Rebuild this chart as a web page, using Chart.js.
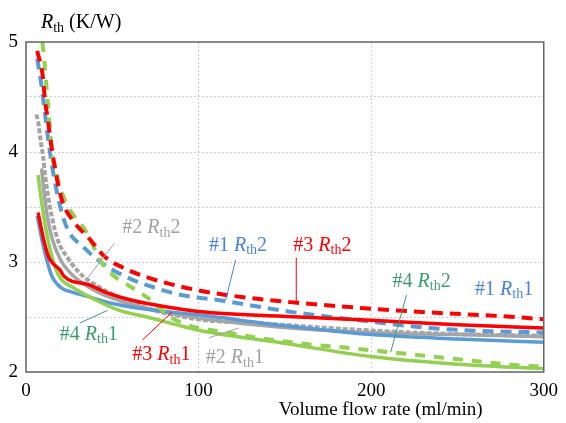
<!DOCTYPE html>
<html>
<head>
<meta charset="utf-8">
<script src="https://cdn.jsdelivr.net/npm/chart.js@4.4.1/dist/chart.umd.min.js"></script>
<style>
  body { margin: 0; background: #fff; }
</style>
</head>
<body>
<canvas id="chart" width="566" height="423"></canvas>
<script>
// values: flow (ml/min) and Rth (K/W) per curve

// #1 Rth1 (blue, solid)
let flow_1_1 = [6.5, 9, 12, 15, 18, 21, 28, 35, 48, 70, 100, 150, 200, 250, 300];
let rth_1_1  = [3.42, 3.22, 3.02, 2.87, 2.8, 2.76, 2.72, 2.69, 2.63, 2.57, 2.52, 2.42, 2.34, 2.3, 2.27];
// #1 Rth2 (blue, dashed)
let flow_1_2 = [6.5, 9, 11, 13, 15, 20.7, 25, 33, 41.5, 50, 61.6, 70, 90, 113, 140, 152, 204, 234, 270, 300];
let rth_1_2  = [4.85, 4.6, 4.35, 4.1, 3.88, 3.45, 3.27, 3.14, 3.02, 2.93, 2.84, 2.79, 2.7, 2.65, 2.58, 2.55, 2.45, 2.4, 2.37, 2.36];
// #2 Rth1 (gray, solid)
let flow_2_1 = [9, 10, 12, 15, 20, 27, 40, 54, 70, 100, 146, 200, 250, 300];
let rth_2_1  = [3.85, 3.7, 3.45, 3.22, 3.02, 2.88, 2.74, 2.65, 2.58, 2.49, 2.41, 2.36, 2.34, 2.32];
// #2 Rth2 (gray, dashed)
let flow_2_2 = [6, 7, 8.5, 10, 11, 13, 15, 18.4, 23.6, 31, 42.6, 54, 70, 85, 104, 130, 148, 175, 223, 260, 300];
let rth_2_2  = [4.34, 4.28, 4.1, 3.95, 3.8, 3.58, 3.41, 3.2, 3.05, 2.9, 2.77, 2.68, 2.58, 2.52, 2.47, 2.45, 2.43, 2.4, 2.36, 2.34, 2.33];
// #3 Rth1 (red, solid)
let flow_3_1 = [7, 10, 13, 16, 19.6, 22, 37, 47, 62, 71, 100, 158, 200, 250, 300];
let rth_3_1  = [3.45, 3.22, 3.05, 2.98, 2.93, 2.87, 2.79, 2.72, 2.65, 2.62, 2.55, 2.5, 2.47, 2.43, 2.4];
// #3 Rth2 (red, dashed)
let flow_3_2 = [6.5, 9.8, 11, 12.7, 14.4, 18.4, 21.3, 28, 36.8, 45.5, 56, 68.5, 81, 104, 131, 157, 196, 235, 273, 300];
let rth_3_2  = [4.92, 4.68, 4.47, 4.29, 4.09, 3.72, 3.54, 3.36, 3.21, 3.05, 2.95, 2.87, 2.81, 2.73, 2.67, 2.63, 2.58, 2.54, 2.51, 2.48];
// #4 Rth1 (green, solid)
let flow_4_1 = [7, 9, 12, 15.5, 19.6, 27, 41, 54, 70, 100, 146, 200, 250, 300];
let rth_4_1  = [3.79, 3.55, 3.26, 3.02, 2.86, 2.77, 2.65, 2.56, 2.5, 2.38, 2.27, 2.14, 2.07, 2.03];
// #4 Rth2 (green, dashed)
let flow_4_2 = [9.5, 11, 12, 13, 14, 15, 18, 22.5, 35, 44, 52, 56, 70, 87, 120, 159, 186, 211, 248, 286, 300];
let rth_4_2  = [5.0, 4.77, 4.56, 4.38, 4.2, 4.0, 3.78, 3.56, 3.27, 2.99, 2.86, 2.82, 2.68, 2.47, 2.35, 2.26, 2.22, 2.18, 2.12, 2.06, 2.05];

let xTicks = [0, 100, 200, 300];
let yTicks = [2, 3, 4, 5];

// curve labels: sample no., index, colour, text anchor and leader line (data coords)
let labels = [
    { no: '#2', idx: '2', color: '#a0a0a0', at: [55.8, 3.31], line: [[51.2, 3.17], [35.7, 2.855]] },
    { no: '#1', idx: '2', color: '#4a80e0', at: [106, 3.15], line: [[121.5, 3.02], [115.7, 2.655]] },
    { no: '#3', idx: '2', color: '#ff0000', at: [154.9, 3.15], line: [[156.6, 3.04], [156.6, 2.64]] },
    { no: '#4', idx: '2', color: '#3a9e6c', at: [212.4, 2.82], line: [[220.5, 2.70], [211.3, 2.18]] },
    { no: '#1', idx: '1', color: '#4a80e0', at: [260.2, 2.75], line: null },
    { no: '#4', idx: '1', color: '#3a9e6c', at: [19.6, 2.34], line: [[31.1, 2.445], [47.2, 2.56]] },
    { no: '#3', idx: '1', color: '#ff0000', at: [61.6, 2.155], line: [[67.4, 2.29], [84.6, 2.545]] },
    { no: '#2', idx: '1', color: '#a0a0a0', at: [104.2, 2.127], line: [[105.9, 2.31], [123.2, 2.40]] }
];

const FONT = '"Liberation Serif", "Times New Roman", serif';

function pts(xs, ys) {
    return xs.map((x, i) => ({ x: x, y: ys[i] }));
}

function series(xs, ys, color, dash, width) {
    return {
        data: pts(xs, ys),
        borderColor: color,
        borderWidth: width,
        borderDash: dash,
        pointRadius: 0,
        showLine: true,
        fill: false,
        cubicInterpolationMode: 'monotone'
    };
}

// "#n R_th k" with italic R and subscript th
function drawRth(ctx, x, y, pre, post, size, color) {
    ctx.save();
    ctx.fillStyle = color;
    ctx.textBaseline = 'middle';
    ctx.textAlign = 'left';
    ctx.font = size + 'px ' + FONT;
    ctx.fillText(pre, x, y);
    x += ctx.measureText(pre).width;
    ctx.font = 'italic ' + size + 'px ' + FONT;
    ctx.fillText('R', x, y);
    x += ctx.measureText('R').width;
    let sub = Math.round(size * 0.68);
    ctx.font = sub + 'px ' + FONT;
    ctx.fillText('th', x, y + size * 0.25);
    x += ctx.measureText('th').width;
    ctx.font = size + 'px ' + FONT;
    ctx.fillText(post, x, y);
    ctx.restore();
}

const decor = {
    id: 'decor',
    afterDraw(chart) {
        const ctx = chart.ctx;
        const a = chart.chartArea;
        const xs = chart.scales.x, ys = chart.scales.y;

        // frame
        ctx.save();
        ctx.strokeStyle = '#666';
        ctx.lineWidth = 1.5;
        ctx.strokeRect(a.left, a.top, a.right - a.left, a.bottom - a.top);
        ctx.restore();

        // curve labels
        labels.forEach(l => {
            if (l.line) {
                ctx.save();
                ctx.strokeStyle = l.color;
                ctx.lineWidth = 1;
                ctx.beginPath();
                ctx.moveTo(xs.getPixelForValue(l.line[0][0]), ys.getPixelForValue(l.line[0][1]));
                ctx.lineTo(xs.getPixelForValue(l.line[1][0]), ys.getPixelForValue(l.line[1][1]));
                ctx.stroke();
                ctx.restore();
            }
            drawRth(ctx, xs.getPixelForValue(l.at[0]), ys.getPixelForValue(l.at[1]),
                l.no + ' ', l.idx, 20, l.color);
        });

        // axis titles
        drawRth(ctx, a.left + 15, 23, '', ' (K/W)', 20, '#000');
        ctx.save();
        ctx.fillStyle = '#000';
        ctx.font = '19px ' + FONT;
        ctx.textAlign = 'center';
        ctx.textBaseline = 'middle';
        ctx.fillText('Volume flow rate (ml/min)', a.right - 163, 410);
        ctx.restore();
    }
};

let chart = new Chart(document.getElementById('chart'), {
    type: 'scatter',
    data: {
        datasets: [
            series(flow_3_2, rth_3_2, '#ff0000', [11, 7], 4),
            series(flow_3_1, rth_3_1, '#ff0000', [], 3.5),
            series(flow_4_2, rth_4_2, '#92d050', [10, 9], 4),
            series(flow_1_2, rth_1_2, '#5b9bd5', [11, 7], 4),
            series(flow_4_1, rth_4_1, '#92d050', [], 3.5),
            series(flow_1_1, rth_1_1, '#5b9bd5', [], 3.5),
            series(flow_2_2, rth_2_2, '#a5a5a5', [5, 2], 4),
            series(flow_2_1, rth_2_1, '#a5a5a5', [], 3.5)
        ]
    },
    options: {
        responsive: false,
        animation: false,
        devicePixelRatio: 1,
        layout: { padding: { top: 42, right: 18, left: 0, bottom: 0 } },
        plugins: { legend: { display: false }, tooltip: { enabled: false } },
        scales: {
            x: {
                type: 'linear',
                min: 0, max: 300,
                afterFit(s) { s.height = 51; },
                afterBuildTicks(s) { s.ticks = xTicks.map(v => ({ value: v })); },
                grid: { color: '#cfcfcf', lineWidth: 1, drawTicks: false },
                border: { display: false, dash: [2, 2] },
                ticks: { color: '#000', padding: 8, font: { family: FONT, size: 19 } }
            },
            y: {
                type: 'linear',
                min: 2, max: 5,
                afterFit(s) { s.width = 26; },
                ticks: {
                    stepSize: 0.5,
                    color: '#000',
                    padding: 8,
                    font: { family: FONT, size: 19 },
                    callback: v => yTicks.includes(v) ? v : ''
                },
                grid: { color: '#cfcfcf', lineWidth: 1, drawTicks: false },
                border: { display: false, dash: [2, 2] }
            }
        }
    },
    plugins: [decor]
});
</script>
</body>
</html>
